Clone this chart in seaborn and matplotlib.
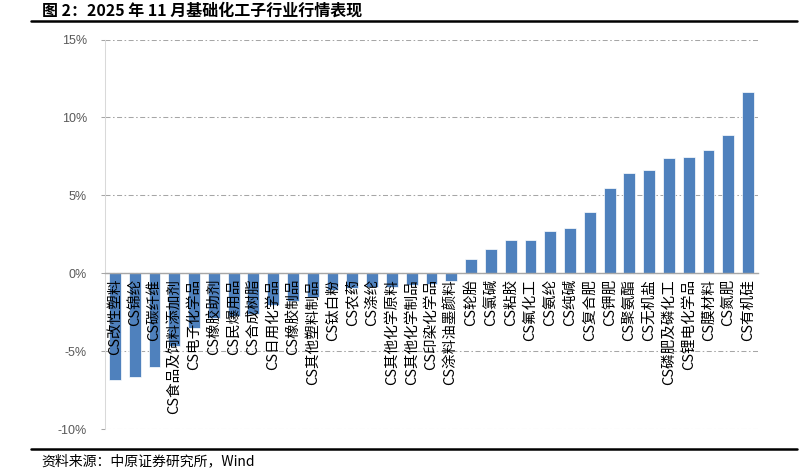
import matplotlib
matplotlib.use("Agg")
import matplotlib.pyplot as plt
import matplotlib.lines as mlines
import seaborn as sns
import pandas as pd

# 数据：2025年11月基础化工子行业涨跌幅（%）
industries = [
    "CS改性塑料", "CS锦纶", "CS碳纤维", "CS食品及饲料添加剂", "CS电子化学品",
    "CS橡胶助剂", "CS民爆用品", "CS合成树脂", "CS日用化学品", "CS橡胶制品",
    "CS其他塑料制品", "CS钛白粉", "CS农药", "CS涤纶", "CS其他化学原料",
    "CS其他化学制品", "CS印染化学品", "CS涂料油墨颜料", "CS轮胎", "CS氯碱",
    "CS粘胶", "CS氟化工", "CS氨纶", "CS纯碱", "CS复合肥",
    "CS钾肥", "CS聚氨酯", "CS无机盐", "CS磷肥及磷化工", "CS锂电化学品",
    "CS膜材料", "CS氮肥", "CS有机硅",
]
returns = [
    -6.88, -6.65, -6.02, -4.65, -3.50,
    -2.85, -2.75, -2.62, -2.02, -1.80,
    -1.50, -1.08, -0.97, -0.90, -0.88,
    -0.76, -0.68, -0.49, 0.92, 1.55,
    2.12, 2.14, 2.70, 2.90, 3.92,
    5.50, 6.40, 6.64, 7.38, 7.49,
    7.89, 8.85, 11.64,
]
yticks = [-10, -5, 0, 5, 10, 15]

title = "图 2：2025 年 11 月基础化工子行业行情表现"
source = "资料来源：中原证券研究所，Wind"

df = pd.DataFrame({"industry": industries, "ret": returns})

sns.set_theme(style="white")
plt.rcParams["font.family"] = ["Noto Sans CJK SC", "DejaVu Sans"]

fig = plt.figure(figsize=(8.12, 4.71), dpi=100)
ax = fig.add_axes([105 / 812, 1 - 429 / 471, (758 - 105) / 812, (429 - 39.5) / 471])

sns.barplot(data=df, x="industry", y="ret", color="#4F81BD", saturation=1,
            width=0.6, errorbar=None, edgecolor="white", linewidth=0.5, ax=ax)

ax.set_ylim(-10, 15)
ax.set_xlim(-0.5, len(industries) - 0.5)
ax.set_yticks(yticks)
ax.set_yticklabels([f"{v}%" for v in yticks], family="Liberation Sans",
                   fontsize=9, color="#595959")
ax.set_xlabel("")
ax.set_ylabel("")

# 网格线：点划线，放在柱子下面
ax.yaxis.grid(True, color="#A6A6A6", linewidth=0.75,
              linestyle=(0, (4.8, 2.4, 1.5, 2.4)))
ax.set_axisbelow(True)
# 类别标签压在柱子上面
ax.xaxis.set_zorder(5)

# 横轴放在0处
for s in ["top", "right"]:
    ax.spines[s].set_visible(False)
ax.spines["bottom"].set_position(("data", 0))
ax.spines["bottom"].set_color("#A6A6A6")
ax.spines["bottom"].set_linewidth(1.0)
ax.spines["bottom"].set_zorder(3)
ax.spines["left"].set_color("#D9D9D9")
ax.spines["left"].set_linewidth(0.75)

ax.tick_params(axis="x", length=0, pad=4)
ax.tick_params(axis="y", length=3, width=0.75, color="#A6A6A6", pad=10, left=True)
plt.setp(ax.get_xticklabels(), rotation=90, fontsize=10.5, color="black",
         va="top", ha="center")

# 标题与来源
fig.text(42 / 812, 1 - 10.5 / 471, title, fontsize=11.5, fontweight="bold",
         va="center", ha="left", color="black")
fig.add_artist(mlines.Line2D([31 / 812, 797 / 812], [1 - 20.7 / 471] * 2,
                             color="black", linewidth=1.8,
                             transform=fig.transFigure))
fig.add_artist(mlines.Line2D([31 / 812, 797 / 812], [1 - 449 / 471] * 2,
                             color="black", linewidth=1.8,
                             transform=fig.transFigure))
fig.text(41 / 812, 1 - 461 / 471, source, fontsize=10, va="center",
         ha="left", color="black")

fig.savefig("out.png", dpi=100)
